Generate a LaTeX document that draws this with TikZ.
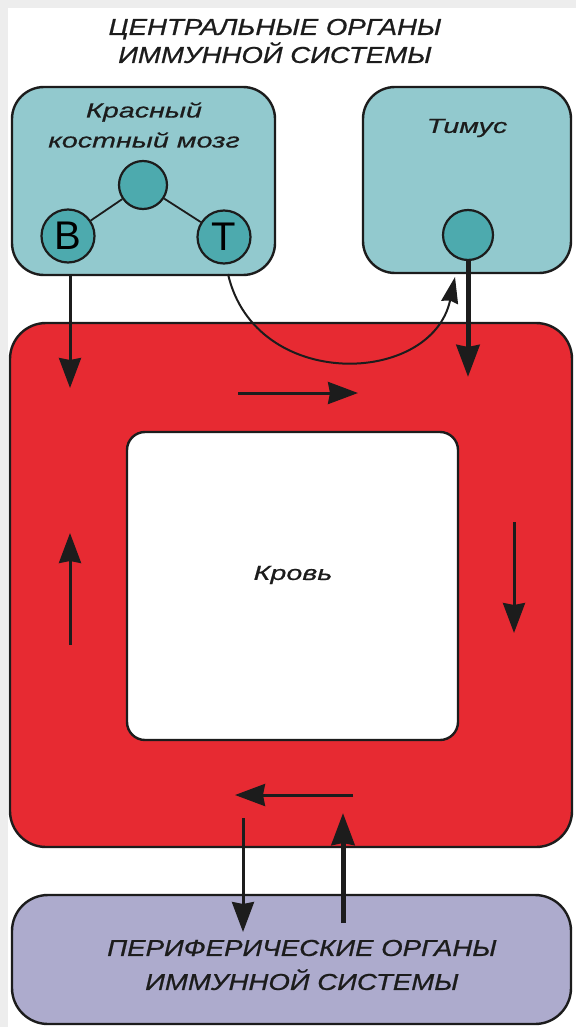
\documentclass[tikz,border=0pt]{standalone}
\usepackage{fontspec}
\setmainfont{Liberation Sans}
\newfontfamily\capfont{Liberation Sans Italic}[FakeStretch=1.2,FakeBold=0.8]
\newfontfamily\lblfont{Liberation Sans Italic}[FakeStretch=1.4,FakeBold=0.6]
\usetikzlibrary{arrows.meta}
\definecolor{bggray}{HTML}{EDEDED}
\definecolor{tealbox}{HTML}{92C9CE}
\definecolor{tealcell}{HTML}{4DAAAE}
\definecolor{bloodred}{HTML}{E72A32}
\definecolor{periph}{HTML}{ADABCD}
\definecolor{ink}{HTML}{1C1C1C}
\tikzset{
  box/.style={draw=ink, line width=2.4pt, inner sep=0pt, rectangle},
  cell/.style={circle, draw=ink, line width=2.2pt, fill=tealcell, inner sep=0pt},
  captxt/.style={font=\capfont\fontsize{23}{28}\selectfont, align=center, text=ink, inner sep=0pt},
  lbltxt/.style={font=\lblfont\fontsize{20.5}{30}\selectfont, align=center, text=ink, inner sep=0pt},
  arr/.style={draw=ink, line width=3pt, -{Stealth[length=30pt,width=22pt,inset=2pt]}},
  tarr/.style={draw=ink, line width=5pt, -{Stealth[length=32pt,width=23pt,inset=2pt]}},
  link/.style={draw=ink, line width=1.8pt}
}
\begin{document}
\begin{tikzpicture}[x=1pt,y=-1pt]
\fill[bggray] (0,0) rectangle (576,1027);
\fill[white] (8,8) rectangle (576,1027);
\useasboundingbox (0,0) rectangle (576,1027);

% title
\node[captxt] (title) at (275,41) {ЦЕНТРАЛЬНЫЕ ОРГАНЫ\\ИММУННОЙ СИСТЕМЫ};

% boxes
\node[box, fill=tealbox, minimum width=263pt, minimum height=188pt, rounded corners=32pt] (marrow) at (143.5,181) {};
\node[box, fill=tealbox, minimum width=208pt, minimum height=186pt, rounded corners=32pt] (thymus) at (467,180) {};
\node[box, fill=bloodred, minimum width=562pt, minimum height=524pt, rounded corners=36pt] (blood) at (291,585) {};
\node[box, fill=white, minimum width=331pt, minimum height=308pt, rounded corners=18pt] (inner) at (292.5,586) {};
\node[box, fill=periph, minimum width=559pt, minimum height=129pt, rounded corners=36pt] (periph) at (291.5,959.5) {};

% labels
\node[lbltxt] (marrowlbl) at (144,125) {Красный\\костный мозг};
\node[lbltxt] (thymuslbl) at (467,128) {Тимус};
\node[lbltxt] (bloodlbl) at (293,575) {Кровь};
\node[captxt, font=\capfont\fontsize{23}{34}\selectfont] (periphlbl) at (302,965) {ПЕРИФЕРИЧЕСКИЕ ОРГАНЫ\\ИММУННОЙ СИСТЕМЫ};

% cells
\node[cell, minimum size=48pt] (stem) at (143,185) {};
\node[cell, minimum size=53pt, font=\fontsize{40}{40}\selectfont] (bcell) at (68,236) {B};
\node[cell, minimum size=53pt, font=\fontsize{40}{40}\selectfont] (tcell) at (224,237) {T};
\node[cell, minimum size=50pt] (tcellthy) at (468,235) {};
\draw[link] (stem) -- (bcell);
\draw[link] (stem) -- (tcell);

% coordinates
\coordinate (bstart) at (70,275);
\coordinate (bend) at (70,388);
\coordinate (cstart) at (228,274);
\coordinate (cend) at (455,277);
\coordinate (tstart) at (468,260);
\coordinate (tend) at (468,377);
\coordinate (r1a) at (238,393);
\coordinate (r1b) at (358,393);
\coordinate (r2a) at (514,522);
\coordinate (r2b) at (514,633);
\coordinate (r3a) at (353,795);
\coordinate (r3b) at (235,795);
\coordinate (r4a) at (70,645);
\coordinate (r4b) at (70,533);
\coordinate (dnA) at (243,818);
\coordinate (dnB) at (243,932);
\coordinate (upA) at (343,923);
\coordinate (upB) at (343,813);

% arrows
\draw[arr] (bstart) -- (bend);
\draw[draw=ink, line width=2pt, -{Stealth[length=26pt,width=17pt,inset=2pt]}] (cstart) .. controls (255,392) and (432,386) .. (cend);
\draw[tarr] (tstart) -- (tend);
\draw[arr] (r1a) -- (r1b);
\draw[arr] (r2a) -- (r2b);
\draw[arr] (r3a) -- (r3b);
\draw[arr] (r4a) -- (r4b);
\draw[arr] (dnA) -- (dnB);
\draw[tarr] (upA) -- (upB);
\end{tikzpicture}
\end{document}
